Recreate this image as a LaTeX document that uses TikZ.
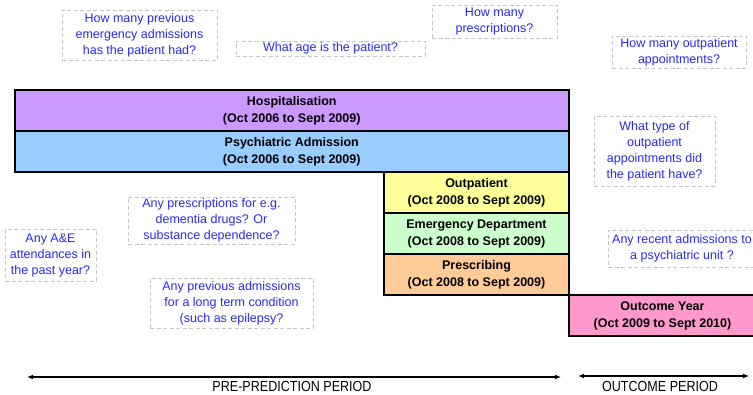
\documentclass[tikz,border=0pt]{standalone}
\usepackage{fontspec}
\setmainfont{Liberation Sans}
\newfontfamily\narrowfont[FakeStretch=0.86]{Liberation Sans}
\usetikzlibrary{arrows.meta}
\definecolor{qblue}{RGB}{40,40,245}
\definecolor{hospcol}{RGB}{204,153,255}
\definecolor{psychcol}{RGB}{153,204,255}
\definecolor{outptcol}{RGB}{255,255,153}
\definecolor{emergcol}{RGB}{204,255,204}
\definecolor{prescol}{RGB}{255,204,153}
\definecolor{outcol}{RGB}{255,153,204}

\begin{document}
\begin{tikzpicture}[x=1pt,y=-1pt,
    periodbox/.style={draw=black, line width=2pt, inner sep=0pt, align=center,
      font=\fontsize{12.5}{16.5}\selectfont\bfseries},
    question/.style={draw=gray!45, dash pattern=on 4pt off 2.5pt, line width=0.8pt,
      inner sep=0pt, align=center, text=qblue, font=\fontsize{12.5}{16}\selectfont},
    spanarrow/.style={line width=1.2pt, {Latex[length=6pt,width=5pt]}-{Latex[length=6pt,width=5pt]}},
    spanlabel/.style={anchor=base, font=\narrowfont\fontsize{14.6}{16}\selectfont}]
    \useasboundingbox (0,0) rectangle (753,395);
    % data periods
    \node[periodbox, fill=hospcol, minimum width=554.5pt, minimum height=41pt] (hosp) at (291.75,111) {Hospitalisation\\(Oct 2006 to Sept 2009)};
    \node[periodbox, fill=psychcol, minimum width=554.5pt, minimum height=41pt] (psych) at (291.75,152) {Psychiatric Admission\\(Oct 2006 to Sept 2009)};
    \node[periodbox, fill=outptcol, minimum width=185pt, minimum height=41pt] (outpt) at (476.5,193) {Outpatient\\(Oct 2008 to Sept 2009)};
    \node[periodbox, fill=emergcol, minimum width=185pt, minimum height=41pt] (emerg) at (476.5,234) {Emergency Department\\(Oct 2008 to Sept 2009)};
    \node[periodbox, fill=prescol, minimum width=185pt, minimum height=41pt] (presc) at (476.5,275) {Prescribing\\(Oct 2008 to Sept 2009)};
    \node[periodbox, fill=outcol, minimum width=187pt, minimum height=41pt] (outyr) at (662.5,316) {Outcome Year\\(Oct 2009 to Sept 2010)};
    % questions
    \node[question, minimum width=155pt, minimum height=50pt] (qadm) at (139.5,35) {How many previous\\emergency admissions\\has the patient had?};
    \node[question, minimum width=189pt, minimum height=15pt] (qage) at (330.5,48.5) {What age is the patient?};
    \node[question, minimum width=125pt, minimum height=33pt] (qpresc) at (494.5,21.5) {How many\\prescriptions?};
    \node[question, minimum width=134pt, minimum height=32pt] (qoutpt) at (679,52) {How many outpatient\\appointments?};
    \node[question, minimum width=121pt, minimum height=70pt] (qtype) at (654.5,151) {What type of\\outpatient\\appointments did\\the patient have?};
    \node[question, minimum width=91pt, minimum height=52pt] (qae) at (50.5,255) {Any A\&E\\attendances in\\the past year?};
    \node[question, minimum width=167pt, minimum height=47pt] (qdrugs) at (211.5,220.5) {Any prescriptions for e.g.\\dementia drugs? Or\\substance dependence?};
    \node[question, minimum width=163pt, minimum height=50pt] (qlong) at (231.5,303) {Any previous admissions\\for a long term condition\\(such as epilepsy?};
    \node[question, minimum width=148pt, minimum height=37pt] (qrecent) at (682,248.5) {Any recent admissions to\\a psychiatric unit ?};
    % periods along the bottom
    \coordinate (preL) at (27,377);
    \coordinate (preR) at (561,377);
    \coordinate (outL) at (578,376);
    \coordinate (outR) at (749,376);
    \draw[spanarrow] (preL) -- (preR);
    \draw[spanarrow] (outL) -- (outR);
    \node[spanlabel] (prelabel) at (292,392) {PRE-PREDICTION PERIOD};
    \node[spanlabel] (outlabel) at (660,392) {OUTCOME PERIOD};
\end{tikzpicture}
\end{document}
